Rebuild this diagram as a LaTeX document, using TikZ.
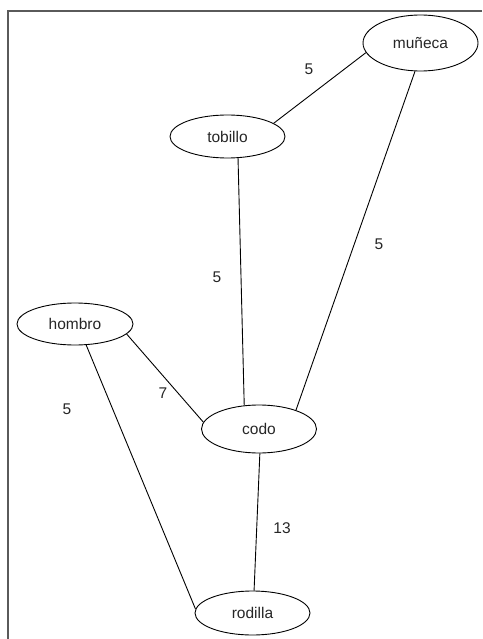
\documentclass[tikz,border=0pt]{standalone}
\usepackage{fontspec}
\setmainfont{Liberation Sans}
\usetikzlibrary{shapes.geometric}
\tikzset{
  vtx/.style={ellipse, draw=black, line width=0.9pt, inner sep=0pt, minimum width=115pt, font=\fontsize{15.5}{18}\selectfont, text=black!85},
  edge/.style={draw=black, line width=0.9pt},
  wlabel/.style={inner sep=0pt, font=\fontsize{15.5}{18}\selectfont, text=black!85},
  frameline/.style={draw={rgb,255:red,90;green,90;blue,90}, line width=1.6pt}
}
\begin{document}
\begin{tikzpicture}[x=1pt,y=-1pt]
\useasboundingbox (0,0) rectangle (482,639);
\coordinate (ftr) at (482,11);
\coordinate (ftl) at (8,11);
\coordinate (fbl) at (8,639);
\draw[frameline] (ftr) -- (ftl) -- (fbl);

\node[vtx, minimum height=56pt] (muneca) at (420.5,43) {muñeca};
\node[vtx, minimum height=43pt] (tobillo) at (227.5,136.5) {tobillo};
\node[vtx, minimum height=42pt, minimum width=116pt] (hombro) at (75,324) {hombro};
\node[vtx, minimum height=48pt] (codo) at (259,429) {codo};
\node[vtx, minimum height=44pt] (rodilla) at (252.5,613) {rodilla};

\draw[edge] (muneca.190) -- (tobillo.16);
\draw[edge] (muneca.259) -- (codo.27);
\draw[edge] (tobillo.-64) -- (codo.122);
\draw[edge] (hombro.-11) -- (codo.173);
\draw[edge] (hombro.-62) -- (rodilla.176);
\draw[edge] (codo.-88) -- (rodilla.86);

\node[wlabel] (l1) at (309,69) {5};
\node[wlabel] (l2) at (379,244) {5};
\node[wlabel] (l3) at (217,277) {5};
\node[wlabel] (l4) at (163,393) {7};
\node[wlabel] (l5) at (67,409) {5};
\node[wlabel] (l6) at (282,528) {13};
\end{tikzpicture}
\end{document}
